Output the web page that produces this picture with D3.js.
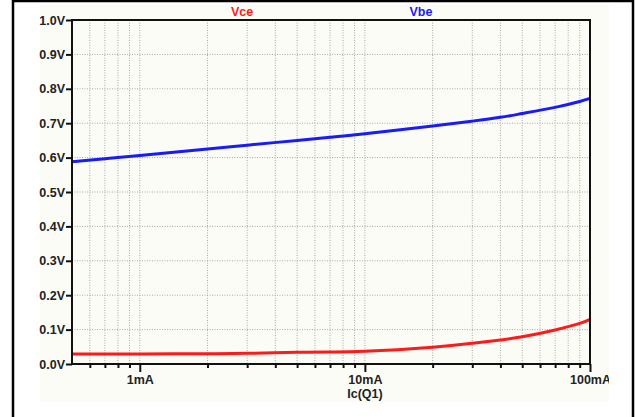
<!DOCTYPE html>
<html>
<head>
<meta charset="utf-8">
<script src="https://cdn.jsdelivr.net/npm/d3@7"></script>
<style>
  body { margin: 0; background: #fff; }
  svg { display: block; }
  text { font-family: "Liberation Sans", Arial, sans-serif; font-weight: bold; }
</style>
</head>
<body>
<script>
let width = 635;
let height = 417;

// collector current in mA
let current = [0.5, 0.7, 1, 2, 3, 5, 7, 10, 20, 30, 40, 50, 70, 90, 100];
// V(be) and V(ce)
let vbe = [0.588, 0.597, 0.606, 0.625, 0.636, 0.650, 0.659, 0.669, 0.692, 0.706, 0.717, 0.728, 0.746, 0.763, 0.772];
let vce = [0.029, 0.029, 0.029, 0.030, 0.031, 0.034, 0.035, 0.037, 0.049, 0.060, 0.070, 0.079, 0.099, 0.118, 0.130];

let yTicks = [0, 0.1, 0.2, 0.3, 0.4, 0.5, 0.6, 0.7, 0.8, 0.9, 1.0];
let yTickLabels = ["0.0V", "0.1V", "0.2V", "0.3V", "0.4V", "0.5V", "0.6V", "0.7V", "0.8V", "0.9V", "1.0V"];
let xMajor = [1, 10, 100];
let xTickLabels = ["1mA", "10mA", "100mA"];
let xMinor = [0.6, 0.7, 0.8, 0.9, 2, 3, 4, 5, 6, 7, 8, 9, 20, 30, 40, 50, 60, 70, 80, 90];

let seriesNames = ["Vce", "Vbe"];
let seriesColors = ["#ff1a1a", "#1a1aff"];

let x = d3.scaleLog().domain([0.5, 100]).range([72, 590]);
let y = d3.scaleLinear().domain([0, 1]).range([364, 20]);

let svg = d3.select("body").append("svg")
    .attr("width", width)
    .attr("height", height);

// the pasted plot image sits on a slightly off-white background
svg.append("rect")
    .attr("x", 40).attr("y", 5)
    .attr("width", 569).attr("height", 397)
    .style("fill", "#fcfcf7");

// grid
let grid = svg.append("g");
grid.selectAll("line.v")
    .data(xMinor.concat(xMajor.slice(0, 2)))
    .enter().append("line")
    .attr("x1", d => x(d)).attr("x2", d => x(d))
    .attr("y1", y(1)).attr("y2", y(0))
    .style("stroke", "#a8a8a8")
    .style("stroke-width", 1)
    .style("stroke-dasharray", "1,1.5");
grid.selectAll("line.h")
    .data(yTicks.slice(1, -1))
    .enter().append("line")
    .attr("x1", x(0.5)).attr("x2", x(100))
    .attr("y1", d => y(d)).attr("y2", d => y(d))
    .style("stroke", "#a8a8a8")
    .style("stroke-width", 1)
    .style("stroke-dasharray", "1,1.5");

// curves
let line = d3.line()
    .x(d => x(d[0]))
    .y(d => y(d[1]))
    .curve(d3.curveNatural);

[vce, vbe].forEach((vals, i) => {
    svg.append("path")
        .datum(current.map((c, j) => [c, vals[j]]))
        .attr("d", line)
        .style("fill", "none")
        .style("stroke", seriesColors[i])
        .style("stroke-width", 3);
});

// plot box
svg.append("rect")
    .attr("x", x(0.5)).attr("y", y(1))
    .attr("width", x(100) - x(0.5)).attr("height", y(0) - y(1))
    .style("fill", "none")
    .style("stroke", "#111")
    .style("stroke-width", 2);

// y axis
let yAxis = svg.append("g")
    .attr("transform", `translate(${x(0.5)},0)`)
    .call(d3.axisLeft(y)
        .tickValues(yTicks)
        .tickSize(6)
        .tickPadding(1)
        .tickFormat((d, i) => yTickLabels[i]));

// x axis, minor then major ticks
let xMinorAxis = svg.append("g")
    .attr("transform", `translate(0,${y(0)})`)
    .call(d3.axisBottom(x).tickValues(xMinor).tickSize(4).tickFormat(""));
let xAxis = svg.append("g")
    .attr("transform", `translate(0,${y(0)})`)
    .call(d3.axisBottom(x)
        .tickValues(xMajor)
        .tickSize(8)
        .tickPadding(3)
        .tickFormat((d, i) => xTickLabels[i]));

[yAxis, xMinorAxis, xAxis].forEach(a => {
    a.select(".domain").remove();
    a.selectAll(".tick line").style("stroke", "#111").style("stroke-width", 2);
    a.selectAll("text")
        .style("font-family", "'Liberation Sans', Arial, sans-serif")
        .style("font-weight", "bold")
        .style("font-size", "12.5px")
        .style("fill", "#222");
});

// axis title
svg.append("text")
    .attr("x", 365).attr("y", 398)
    .attr("text-anchor", "middle")
    .style("font-size", "12.5px")
    .style("fill", "#222")
    .text("Ic(Q1)");

// legend
let legendX = [242, 421];
seriesNames.forEach((name, i) => {
    svg.append("text")
        .attr("x", legendX[i]).attr("y", 16)
        .attr("text-anchor", "middle")
        .style("font-size", "12.5px")
        .style("fill", seriesColors[i])
        .text(name);
});

// cut off the part of 100mA that runs past the image edge
svg.append("rect")
    .attr("x", 609).attr("y", 5)
    .attr("width", 23).attr("height", 412)
    .style("fill", "#fff");

// frame around the cell
svg.append("path")
    .attr("d", "M13,417V1H633V417")
    .style("fill", "none")
    .style("stroke", "#000")
    .style("stroke-width", 2.5);
</script>
</body>
</html>
